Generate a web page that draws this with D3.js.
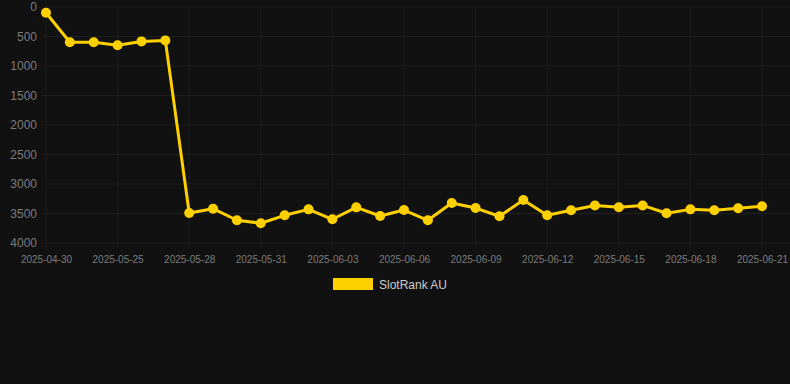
<!DOCTYPE html>
<html lang="en">
<head>
<meta charset="UTF-8">
<title>SlotRank AU</title>
<style>
  html, body { margin: 0; padding: 0; background: #111111; }
  svg { display: block; }
</style>
</head>
<body>
<svg id="chart"></svg>
<script src="https://d3js.org/d3.v7.min.js"></script>
<script>
// categories (daily) and rank values
const dates = [
  "2025-04-30", "2025-05-23", "2025-05-24", "2025-05-25", "2025-05-26", "2025-05-27",
  "2025-05-28", "2025-05-29", "2025-05-30", "2025-05-31", "2025-06-01", "2025-06-02",
  "2025-06-03", "2025-06-04", "2025-06-05", "2025-06-06", "2025-06-07", "2025-06-08",
  "2025-06-09", "2025-06-10", "2025-06-11", "2025-06-12", "2025-06-13", "2025-06-14",
  "2025-06-15", "2025-06-16", "2025-06-17", "2025-06-18", "2025-06-19", "2025-06-20",
  "2025-06-21"
];
const ranks = [
  98, 598, 598, 648, 583, 566,
  3492, 3418, 3614, 3665, 3531, 3430,
  3598, 3396, 3542, 3441, 3615, 3323,
  3408, 3547, 3272, 3530, 3446, 3363,
  3395, 3363, 3496, 3430, 3446, 3412,
  3378
];
const yTicks = [0, 500, 1000, 1500, 2000, 2500, 3000, 3500, 4000];
const seriesName = "SlotRank AU";

const width = 790, height = 384;
const plotLeft = 46, plotRight = 762, plotTop = 7, plotBottom = 243;
const gold = "#ffd000";
const font = "Liberation Sans, Arial, sans-serif";

const svg = d3.select("#chart").attr("width", width).attr("height", height);

const x = d3.scalePoint().domain(dates).range([plotLeft, plotRight]);
const y = d3.scaleLinear().domain([0, 4000]).range([plotTop, plotBottom]);

// horizontal grid
svg.append("g")
  .selectAll("line")
  .data(yTicks)
  .join("line")
  .attr("x1", plotLeft - 4).attr("x2", width)
  .attr("y1", d => y(d)).attr("y2", d => y(d))
  .attr("stroke", "#1f1f1f").attr("stroke-width", 1);

// vertical grid at shown labels (every 3rd)
const shown = dates.filter((d, i) => i % 3 === 0);
svg.append("g")
  .selectAll("line")
  .data(shown)
  .join("line")
  .attr("x1", d => x(d)).attr("x2", d => x(d))
  .attr("y1", plotTop).attr("y2", plotBottom + 6)
  .attr("stroke", "#1d1d1d").attr("stroke-width", 1);

// y axis labels
const yAxis = svg.append("g")
  .attr("transform", `translate(${plotLeft - 9},0)`)
  .call(d3.axisLeft(y).tickValues(yTicks).tickFormat(d3.format("d")).tickSize(0).tickPadding(0));
yAxis.select(".domain").remove();
yAxis.selectAll("text")
  .attr("fill", "#7c7c7c")
  .attr("font-family", font)
  .attr("font-size", 12);

// x axis labels
const xAxis = svg.append("g")
  .attr("transform", `translate(0,${plotBottom})`)
  .call(d3.axisBottom(x).tickValues(shown).tickSize(0).tickPadding(13));
xAxis.select(".domain").remove();
xAxis.selectAll("text")
  .attr("fill", "#7c7c7c")
  .attr("font-family", font)
  .attr("font-size", 10);

// line
const line = d3.line()
  .x((d, i) => x(dates[i]))
  .y(d => y(d));

svg.append("path")
  .datum(ranks)
  .attr("fill", "none")
  .attr("stroke", gold)
  .attr("stroke-width", 3)
  .attr("stroke-linejoin", "round")
  .attr("d", line);

svg.append("g")
  .selectAll("circle")
  .data(ranks)
  .join("circle")
  .attr("cx", (d, i) => x(dates[i]))
  .attr("cy", d => y(d))
  .attr("r", 5)
  .attr("fill", gold);

// legend
const legend = svg.append("g").attr("transform", "translate(333,278)");
legend.append("rect")
  .attr("width", 40).attr("height", 12)
  .attr("fill", gold);
legend.append("text")
  .attr("x", 46).attr("y", 10.5)
  .attr("fill", "#cccccc")
  .attr("font-family", font)
  .attr("font-size", 12)
  .text(seriesName);
</script>
</body>
</html>
